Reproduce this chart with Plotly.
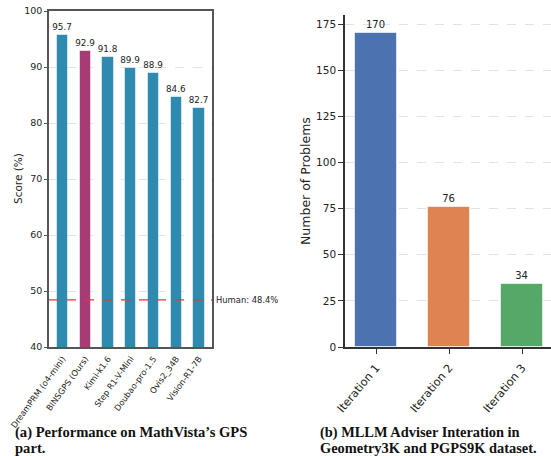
import plotly.graph_objects as go

# Panel (a): GPS accuracy on MathVista
models = ["DreamPRM (o4-mini)", "BINSGPS (Ours)", "Kimi-k1.6", "Step R1-V-Mini",
          "Doubao-pro-1.5", "Ovis2_34B", "Vision-R1-7B"]
scores = [95.7, 92.9, 91.8, 89.9, 88.9, 84.6, 82.7]
human_score = 48.4
score_ticks = [40, 50, 60, 70, 80, 90, 100]

# Panel (b): problems handled per adviser iteration
iterations = ["Iteration 1", "Iteration 2", "Iteration 3"]
problem_counts = [170, 76, 34]
count_ticks = [0, 25, 50, 75, 100, 125, 150, 175]

# Sub-figure captions, one entry per line
caption_a = ["(a) Performance on MathVista’s GPS", "part."]
caption_b = ["(b) MLLM Adviser Interation in", "Geometry3K and PGPS9K dataset."]

W, H = 551, 456
TEAL, MAGENTA = "#2E8BAF", "#A63B75"
iter_colors = ["#4C72B0", "#DD8452", "#55A868"]
bar_colors = [MAGENTA if "Ours" in m else TEAL for m in models]

def px_x(x):
    return x / W

def px_y(y):
    return 1 - y / H

fig = go.Figure()

fig.add_trace(go.Bar(
    x=models, y=scores, width=0.5,
    marker=dict(color=bar_colors, line=dict(color="rgba(255,255,255,0.55)", width=1)),
    text=[f"{v:.1f}" for v in scores], textposition="outside", constraintext="none",
    textfont=dict(size=8.8, color="#222"), cliponaxis=False,
    xaxis="x", yaxis="y", showlegend=False,
))

fig.add_trace(go.Bar(
    x=iterations, y=problem_counts, width=0.58,
    marker=dict(color=iter_colors, line=dict(color="rgba(255,255,255,0.6)", width=1)),
    text=[str(v) for v in problem_counts], textposition="outside", constraintext="none",
    textfont=dict(size=10, color="#222"), cliponaxis=False,
    xaxis="x2", yaxis="y2", showlegend=False,
))

grid = dict(showgrid=True, gridcolor="#e2e2e2", griddash="dash", gridwidth=0.8)
font = "DejaVu Sans"

fig.update_layout(
    width=W, height=H, margin=dict(l=0, r=0, t=0, b=0),
    paper_bgcolor="white", plot_bgcolor="white",
    font=dict(family=font, color="#222"),
    bargap=0,
    xaxis=dict(domain=[px_x(49), px_x(212)], range=[-0.593, 6.571], automargin=False,
               tickangle=-54, tickfont=dict(size=8.3), showgrid=False,
               showline=True, linecolor="#555", linewidth=1.5, mirror=True,
               ticks="", ticklabelstandoff=2, anchor="y"),
    yaxis=dict(domain=[px_y(347), px_y(11)], range=[40, 100], tickvals=score_ticks,
               automargin=False,
               tickfont=dict(size=9.5), showline=True, linecolor="#555", linewidth=1.5,
               mirror=True, ticks="outside", ticklen=3, tickcolor="#555",
               anchor="x", zeroline=False, **grid),
    xaxis2=dict(domain=[px_x(345), 1], range=[-0.425, 2.397], automargin=False,
                tickangle=-50, tickfont=dict(size=11.3), showgrid=False,
                showline=True, linecolor="#333", linewidth=1.5,
                ticks="outside", ticklen=5, tickcolor="#333",
                ticklabelstandoff=3, anchor="y2"),
    yaxis2=dict(domain=[px_y(347), px_y(15)], range=[0, 180], tickvals=count_ticks,
                automargin=False,
                tickfont=dict(size=10.5), showline=True, linecolor="#333", linewidth=1.5,
                ticks="outside", ticklen=5, tickcolor="#333", anchor="x2",
                zeroline=False, **grid),
)

# Human baseline
fig.add_shape(type="line", xref="x domain", yref="y", x0=0, x1=1,
              y0=human_score, y1=human_score, layer="above",
              line=dict(color="#F03232", width=1.3, dash="dash"))

annotations = [
    dict(xref="x domain", yref="y", x=1.01, y=human_score, xanchor="left",
         yanchor="middle", text=f"Human: {human_score}%", showarrow=False,
         font=dict(size=8.4, color="#222")),
    dict(xref="paper", yref="paper", x=px_x(18), y=px_y(179), text="Score (%)",
         xanchor="center", yanchor="middle",
         textangle=-90, showarrow=False, font=dict(size=10.5, color="#222")),
    dict(xref="paper", yref="paper", x=px_x(306), y=px_y(181), text="Number of Problems",
         xanchor="center", yanchor="middle",
         textangle=-90, showarrow=False, font=dict(size=12.5, color="#222")),
]

# Captions: bold serif, two lines each, tight line spacing
for x0, lines, size in [(13, caption_a, 14.6), (318, caption_b, 14.4)]:
    for i, line in enumerate(lines):
        annotations.append(dict(
            xref="paper", yref="paper", x=px_x(x0), y=px_y(432 + 16 * i),
            xanchor="left", yanchor="middle", showarrow=False,
            text=f"<b>{line}</b>",
            font=dict(family="Liberation Serif", size=size, color="#111")))

fig.update_layout(annotations=annotations)

fig.write_html("out.html")
